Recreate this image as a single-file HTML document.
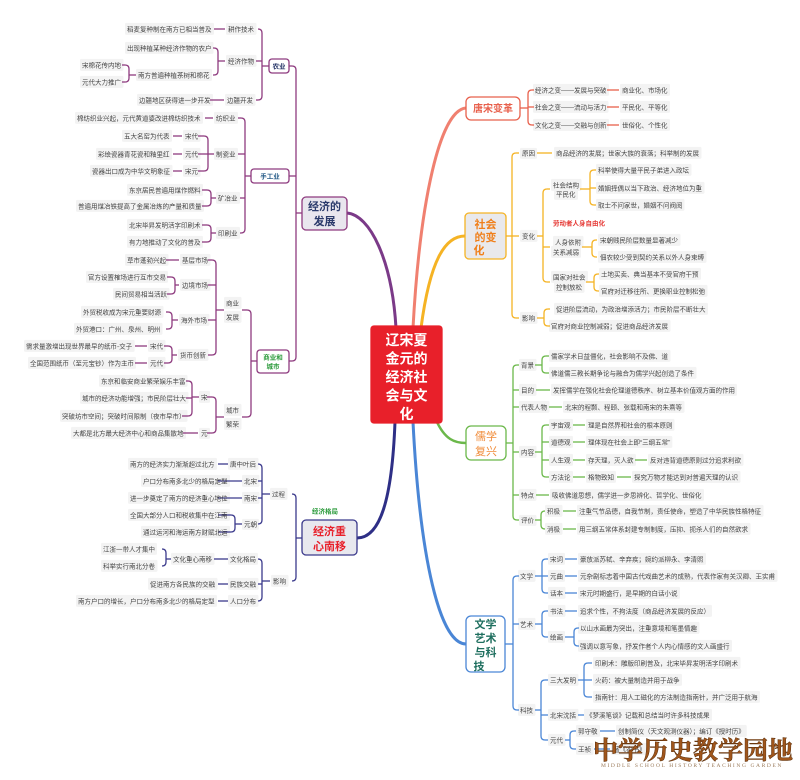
<!DOCTYPE html>
<html><head><meta charset="utf-8"><style>
html,body{margin:0;padding:0;background:#fff;width:800px;height:780px;overflow:hidden}
svg{display:block;font-family:"Liberation Sans","Noto Sans CJK SC",sans-serif}
</style></head><body>
<svg id="s" width="800" height="780" viewBox="0 0 800 780" xmlns="http://www.w3.org/2000/svg"><g id="bg"></g><g id="fg"></g></svg>
<script>
const S=[];
function t(x,y,s,c,fs,w,anchor){c=c||'#444';fs=fs||6.5;S.push(`<text ${c=='#444'?'class="lf"':''} x="${x}" y="${y+fs*0.36}" font-size="${fs}" fill="${c}" font-weight="${w||'normal'}" text-anchor="${anchor||'start'}">${s}</text>`)}
function ln(x1,y1,x2,y2,c,w){S.push(`<line x1="${x1}" y1="${y1}" x2="${x2}" y2="${y2}" stroke="${c}" stroke-width="${w||1.3}"/>`)}
function br(bx,px,py,kids,c){
 let ys=kids.map(k=>k[1]);let mn=Math.min(...ys),mx=Math.max(...ys);
 const dir=kids[0][0]<bx?-1:1;
 S.push(`<path d="M${bx+dir*4} ${mn} Q${bx} ${mn} ${bx} ${mn+4} L${bx} ${mx-4} Q${bx} ${mx} ${bx+dir*4} ${mx}" fill="none" stroke="${c}" stroke-width="1.3"/>`);
 ln(px,py,bx,py,c);
 kids.forEach(k=>{if(k[1]!=mn&&k[1]!=mx)ln(bx,k[1],k[0],k[1],c);else ln(bx+dir*4,k[1],k[0],k[1],c)});
}
function box(x,y,w,h,stroke,fill,r){S.push(`<rect x="${x}" y="${y}" width="${w}" height="${h}" rx="${r||4}" fill="${fill}" stroke="${stroke}" stroke-width="1.3"/>`)}
function cv(d,c,w){S.push(`<path d="${d}" fill="none" stroke="${c}" stroke-width="${w||3}" stroke-linecap="round"/>`)}

cv('M396 328 C392 260 370 215 347 213','#7b3a88');
cv('M395 422 C392 500 380 538 357 538','#2e2f86');
cv('M413 328 C420 200 440 110 466 108','#f08070');
cv('M421 328 C430 260 445 236 465 236','#f5b324');
cv('M436 420 C445 440 455 443 466 443','#6bb84a',2.5);
cv('M413 422 C420 560 440 644 466 644','#4a86d6');

box(371,326,71,97,'#e8202a','#e8202a',3);
['辽宋夏','金元的','经济社','会与文','化'].forEach((s,i)=>t(406.5,340+i*18.5,s,'#fff',14,'bold','middle'));

const P='#8e3b7f';
box(302,197,45,33,P,'#e9e6ee',4);
t(324.5,206,'经济的','#2b3a6b',11,'bold','middle');t(324.5,221,'发展','#2b3a6b',11,'bold','middle');
br(296,302,213,[[289,66],[289,176],[289,361]],P);
box(269,59,20,14,P,'#fff',3);t(279,66,'农业','#2b3a6b',6.5,'bold','middle');
br(262,269,66,[[258,29],[256,61],[256,100]],P);
t(228,29,'耕作技术');ln(214,29,225,29,P);t(127,29,'稻麦复种制在南方已相当普及');
t(228,61,'经济作物');br(218,225,61,[[213,48],[213,75]],P);
t(127,48,'出现种植某种经济作物的农户');t(138,75,'南方普遍种植茶树和棉花');
br(129,136,75,[[122,65],[122,82]],P);t(82,65,'宋棉花传内地');t(82,82,'元代大力推广');
t(227,100,'边疆开发');ln(210,100,224,100,P);t(139,100,'边疆地区获得进一步开发');
box(251,169,38,14,P,'#fff',3);t(270,176,'手工业','#2a5e8a',6.5,'bold','middle');
br(245,251,176,[[238,118],[238,154],[240,198],[240,233]],P);
t(216,118,'纺织业');ln(205,118,213,118,P);t(77,118,'棉纺织业兴起，元代黄道婆改进棉纺织技术');
t(216,154,'制瓷业');br(208,214,154,[[198,136],[198,154],[198,171]],P);
t(185,136,'宋代');t(185,154,'元代');t(185,171,'宋元');
ln(173,136,182,136,P);ln(173,154,182,154,P);ln(173,171,182,171,P);
t(124,136,'五大名窑为代表');t(98,154,'彩绘瓷器青花瓷和釉里红');t(92,171,'瓷器出口成为中华文明象征');
t(218,198,'矿冶业');br(211,216,198,[[202,190],[202,206]],P);
t(129,190,'东京居民普遍用煤作燃料');t(78,206,'普遍用煤冶铁提高了金属冶炼的产量和质量');
t(218,233,'印刷业');br(211,216,233,[[202,225],[202,242]],P);
t(129,225,'北宋毕昇发明活字印刷术');t(129,242,'有力地推动了文化的普及');
box(257,350,32,23,P,'#fff',3);t(273,357,'商业和','#2a9a3a',6.5,'bold','middle');t(273,366,'城市','#2a9a3a',6.5,'bold','middle');
br(251,257,361,[[242,310],[242,417]],P);
t(226,303,'商业');t(226,317,'发展');
br(216,224,310,[[208,260],[208,285],[208,320],[208,355]],P);
t(182,260,'基层市场');ln(166,260,179,260,P);t(127,260,'草市蓬勃兴起');
t(182,285,'边境市场');br(175,179,285,[[167,277],[167,294]],P);
t(88,277,'官方设置榷场进行互市交易');t(115,294,'民间贸易相当活跃');
t(181,320,'海外市场');br(172,178,320,[[166,312],[166,329]],P);
t(83,312,'外贸税收成为宋元重要财源');t(76,329,'外贸港口：广州、泉州、明州');
t(180,355,'货币创新');br(172,177,355,[[164,346],[164,363]],P);
t(150,346,'宋代');t(150,363,'元代');ln(135,346,147,346,P);ln(135,363,147,363,P);
t(26,346,'需求量激增出现世界最早的纸币-交子');t(30,363,'全国范围纸币（至元宝钞）作为主币');
t(226,410,'城市');t(226,424,'繁荣');
br(216,224,417,[[207,397],[207,433]],P);
t(201,397,'宋');t(201,433,'元');br(192,199,397,[[186,381],[186,398],[182,416]],P);
ln(183,433,198,433,P);
t(101,381,'东京和临安商业繁荣娱乐丰富');t(82,398,'城市的经济功能增强；市民阶层壮大');
t(62,416,'突破坊市空间；突破时间限制（夜市早市）');t(73,433,'大都是北方最大经济中心和商品集散地');

const N='#3b3a8c';
t(312,511,'经济格局','#2a9a3a',6.5,'bold');
box(302,520,55,35,N,'#e8e8ee',4);
t(329.5,531,'经济重','#e8202a',11,'bold','middle');t(329.5,546,'心南移','#e8202a',11,'bold','middle');
br(296,302,538,[[292,494],[292,581]],N);
t(272,494,'过程');br(262,270,494,[[258,464],[258,481],[258,498],[258,524]],N);
t(230,464,'唐中叶后');t(244,481,'北宋');t(244,498,'南宋');t(244,524,'元朝');
ln(218,464,228,464,N);ln(218,481,242,481,N);ln(218,498,242,498,N);
t(130,464,'南方的经济实力渐渐超过北方');t(143,481,'户口分布南多北少的格局定型');t(130,498,'进一步奠定了南方的经济重心地位');
br(235,242,524,[[218,515],[218,532]],N);
t(130,515,'全国大部分人口和税收集中在江南');t(143,532,'通过运河和海运南方财赋北运');
t(273,581,'影响');br(262,270,581,[[258,559],[258,584],[258,601]],N);
t(230,559,'文化格局');t(230,584,'民族交融');t(230,601,'人口分布');
ln(214,559,228,559,N);ln(218,584,228,584,N);ln(218,601,228,601,N);
t(173,559,'文化重心南移');br(166,171,559,[[162,549],[162,566]],N);
t(103,549,'江浙一带人才集中');t(103,566,'科举实行南北分卷');
t(150,584,'促进南方各民族的交融');t(78,601,'南方户口的增长，户口分布南多北少的格局定型');

const R='#e8604c';
box(466,97,54,23,R,'#fff',5);t(493,108.5,'唐宋变革',R,10,'bold','middle');
br(528,520,108,[[534,90],[534,107],[534,125]],R);
t(535,90,'经济之变——发展与突破');t(535,107,'社会之变——流动与活力');t(535,125,'文化之变——交融与创新');
[90,107,125].forEach(y=>ln(607,y,619,y,R));
t(622,90,'商业化、市场化');t(622,107,'平民化、平等化');t(622,125,'世俗化、个性化');

const O='#f5b324';
box(465,213,41,46,O,'#e9e9ec',4);
t(485.5,224,'社会','#f07f1a',11,'bold','middle');t(485.5,237,'的变','#f07f1a',11,'bold','middle');t(479,250,'化','#f07f1a',11,'bold','middle');
br(512,506,236,[[519,153],[519,236],[519,318]],O);
t(522,153,'原因');ln(537,153,552,153,O);t(556,153,'商品经济的发展；世家大族的衰落；科举制的发展');
t(522,236,'变化');br(543,537,236,[[550,189],[550,247],[550,282]],O);
t(553,185,'社会结构');t(556,194,'平民化');
br(590,580,189,[[596,170],[596,188],[596,205]],O);
t(598,170,'科举使得大量平民子弟进入政坛');t(598,188,'婚姻择偶以当下政治、经济地位为重');t(598,205,'取士不问家世，婚姻不问阀阅');
t(553,223,'劳动者人身自由化','#e53935',6.5,'bold');
t(555,242,'人身依附');t(553,252,'关系减弱');
br(592,582,247,[[597,240],[597,257]],O);
t(600,240,'宋朝贱民阶层数量显著减少');t(600,257,'佃农较少受到契约关系以外人身束缚');
t(553,277,'国家对社会');t(556,287,'控制放松');
br(594,586,282,[[599,274],[599,291]],O);
t(601,274,'土地买卖、典当基本不受官府干预');t(601,291,'官府对迁移往所、更换职业控制松弛');
t(522,318,'影响');br(544,537,318,[[550,309],[550,326]],O);
t(556,309,'促进阶层流动，为政治增添活力；市民阶层不断壮大');t(551,326,'官府对商业控制减弱；促进商品经济发展');

const G='#6bb84a';
box(466,426,40,34,G,'#fff',5);
t(486,436,'儒学','#f08c3a',11,'normal','middle');t(486,451,'复兴','#f08c3a',11,'normal','middle');
br(513,506,443,[[519,365],[519,390],[519,407],[519,452],[519,495],[519,520]],G);
t(521,365,'背景');br(542,535,365,[[549,356],[549,373]],G);
t(551,356,'儒家学术日益僵化，社会影响不及佛、道');t(551,373,'佛道儒三教长期争论与融合为儒学兴起创造了条件');
t(521,390,'目的');ln(536,390,550,390,G);t(553,390,'发挥儒学在强化社会伦理道德秩序、树立基本价值观方面的作用');
t(521,407,'代表人物');ln(549,407,562,407,G);t(565,407,'北宋的程颢、程颐、张载和南宋的朱熹等');
t(521,452,'内容');br(542,535,452,[[549,425],[549,442],[549,460],[549,477]],G);
t(551,425,'宇宙观');t(551,442,'道德观');t(551,460,'人生观');t(551,477,'方法论');
[425,442,460,477].forEach(y=>ln(573,y,585,y,G));
t(588,425,'理是自然界和社会的根本原则');t(588,442,'理体现在社会上即“三纲五常”');t(588,460,'存天理，灭人欲');t(588,477,'格物致知');
ln(635,460,647,460,G);ln(617,477,631,477,G);
t(650,460,'反对违背道德原则过分追求利欲');t(634,477,'探究万物才能达到对普遍天理的认识');
t(521,495,'特点');ln(536,495,549,495,G);t(552,495,'吸收佛道思想，儒学进一步思辨化、哲学化、世俗化');
t(521,520,'评价');br(541,535,520,[[545,511],[545,529]],G);
t(547,511,'积极');t(547,529,'消极');ln(563,511,576,511,G);ln(563,529,576,529,G);
t(579,511,'注重气节品德，自我节制，责任使命，塑造了中华民族性格特征');t(579,529,'用三纲五常体系封建专制制度，压抑、扼杀人们的自然欲求');

const B='#4a86d6';
box(466,616,39,56,B,'#fff',5);
['文学','艺术','与科','技'].forEach((s,i)=>t(i==3?479:485.5,624+i*14,s,'#1f6f5f',11,'bold','middle'));
br(513,505,644,[[519,576],[519,624],[519,710]],B);
t(520,576,'文学');br(542,535,576,[[548,559],[548,576],[548,593]],B);
t(550,559,'宋词');t(550,576,'元曲');t(550,593,'话本');[559,576,593].forEach(y=>ln(565,y,577,y,B));
t(580,559,'豪放派苏轼、辛弃疾；婉约派柳永、李清照');t(580,576,'元杂剧标志着中国古代戏曲艺术的成熟，代表作家有关汉卿、王实甫');t(580,593,'宋元时期盛行，是早期的白话小说');
t(520,624,'艺术');br(542,535,624,[[548,611],[548,637]],B);
t(550,611,'书法');ln(565,611,577,611,B);t(580,611,'追求个性，不拘法度（商品经济发展的反应）');
t(550,637,'绘画');br(574,565,637,[[579,628],[579,646]],B);
t(580,628,'以山水画最为突出，注重意境和笔墨情趣');t(580,646,'强调以意写象，抒发作者个人内心情感的文人画盛行');
t(520,710,'科技');br(541,535,710,[[548,680],[548,715],[548,740]],B);
t(550,680,'三大发明');br(584,578,680,[[592,663],[592,680],[592,697]],B);
t(595,663,'印刷术：雕版印刷普及，北宋毕昇发明活字印刷术');t(595,680,'火药：被大量制造并用于战争');t(595,697,'指南针：用人工磁化的方法制造指南针，并广泛用于航海');
t(550,715,'北宋沈括');ln(578,715,584,715,B);t(586,715,'《梦溪笔谈》记载和总结当时许多科技成果');
t(550,740,'元代');br(570,565,740,[[576,731],[576,749]],B);
t(578,731,'郭守敬');t(578,749,'王祯');ln(600,731,615,731,B);ln(594,749,610,749,B);
t(618,731,'创制简仪（天文观测仪器）；编订《授时历》');t(613,749,'著《农书》');

S.push(`<text x="693" y="759" font-size="25" fill="#a0561c" font-weight="bold" text-anchor="middle" font-family="Noto Serif CJK SC,serif" stroke="#5a2e0a" stroke-width="0.5">中学历史教学园地</text>`);
S.push(`<text x="692" y="767" font-size="5.5" fill="#9a7a5a" text-anchor="middle" letter-spacing="1.6" font-family="Liberation Serif,serif">MIDDLE SCHOOL HISTORY TEACHING GARDEN</text>`);
document.getElementById('fg').innerHTML=S.join('');
const bg=[];
document.querySelectorAll('text.lf').forEach(el=>{try{const b=el.getBBox();bg.push(`<rect x="${b.x-2}" y="${b.y-1.5}" width="${b.width+4}" height="${b.height+3}" rx="1.5" fill="#f3f3f3"/>`)}catch(e){}});
document.getElementById('bg').innerHTML=bg.join('');
</script>
</body></html>
